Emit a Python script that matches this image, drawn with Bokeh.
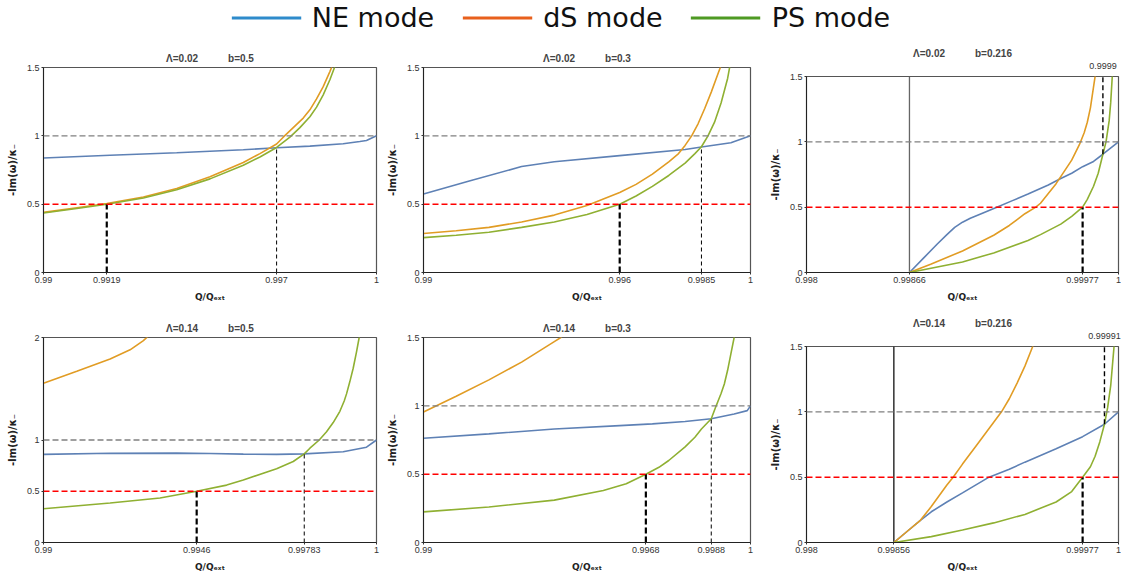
from bokeh.plotting import figure
from bokeh.layouts import column, row
from bokeh.models import FixedTicker, LinearAxis, Range1d, Legend, LegendItem, Span
from bokeh.embed import file_html
from bokeh.resources import INLINE

# ---------------- data ----------------
SERIES = ["NE mode", "dS mode", "PS mode"]

Y_TICKS_A = [0, 0.5, 1, 1.5]
Y_LABELS_A = ["0", "0.5", "1", "1.5"]
Y_TICKS_B = [0, 0.5, 1, 2]
Y_LABELS_B = ["0", "0.5", "1", "2"]

# Panel 1: Lambda=0.02, b=0.5
P1_TITLE = "Λ=0.02\u2003\u2003\u2003b=0.5"
P1_X_TICKS = [0.99, 0.9919, 0.997, 1.0]
P1_X_LABELS = ["0.99", "0.9919", "0.997", "1"]
P1_NE_X = [0.99, 0.992, 0.994, 0.996, 0.997, 0.998, 0.999, 0.9995, 0.9997, 1.0]
P1_NE_Y = [0.838, 0.858, 0.876, 0.898, 0.913, 0.925, 0.942, 0.958, 0.966, 1.0]
P1_DS_X = [0.99, 0.991, 0.9919, 0.993, 0.994, 0.995, 0.996, 0.9965, 0.997, 0.9972, 0.9975, 0.9978, 0.998, 0.9982, 0.9984, 0.9986, 0.9987]
P1_DS_Y = [0.44, 0.474, 0.505, 0.553, 0.615, 0.70, 0.805, 0.87, 0.94, 0.99, 1.06, 1.13, 1.19, 1.27, 1.36, 1.47, 1.53]
P1_PS_X = [0.99, 0.991, 0.9919, 0.993, 0.994, 0.995, 0.996, 0.9965, 0.997, 0.9974, 0.9977, 0.998, 0.9982, 0.9984, 0.9986, 0.9988]
P1_PS_Y = [0.435, 0.468, 0.5, 0.545, 0.605, 0.685, 0.785, 0.845, 0.915, 0.99, 1.06, 1.14, 1.21, 1.30, 1.41, 1.54]
P1_CROSS_X = [0.9919, 0.997]
P1_CROSS_Y = [0.5, 0.915]

# Panel 2: Lambda=0.02, b=0.3
P2_TITLE = "Λ=0.02\u2003\u2003\u2003b=0.3"
P2_X_TICKS = [0.99, 0.996, 0.9985, 1.0]
P2_X_LABELS = ["0.99", "0.996", "0.9985", "1"]
P2_NE_X = [0.99, 0.9914, 0.993, 0.994, 0.996, 0.998, 0.9985, 0.9994, 1.0]
P2_NE_Y = [0.575, 0.67, 0.775, 0.81, 0.855, 0.9, 0.918, 0.95, 1.0]
P2_DS_X = [0.99, 0.991, 0.992, 0.993, 0.994, 0.995, 0.996, 0.9965, 0.997, 0.9975, 0.9978, 0.998, 0.9982, 0.9984, 0.9986, 0.9988, 0.999, 0.9992]
P2_DS_Y = [0.285, 0.305, 0.33, 0.37, 0.42, 0.49, 0.585, 0.645, 0.72, 0.81, 0.87, 0.93, 1.0, 1.09, 1.2, 1.32, 1.45, 1.58]
P2_PS_X = [0.99, 0.991, 0.992, 0.993, 0.994, 0.995, 0.996, 0.9965, 0.997, 0.9975, 0.998, 0.9983, 0.9985, 0.9987, 0.9989, 0.9991, 0.9993, 0.9994]
P2_PS_Y = [0.255, 0.272, 0.295, 0.33, 0.37, 0.425, 0.5, 0.56, 0.63, 0.71, 0.8, 0.87, 0.92, 1.0, 1.1, 1.24, 1.42, 1.55]
P2_CROSS_X = [0.996, 0.9985]
P2_CROSS_Y = [0.5, 0.918]

# Panel 3: Lambda=0.02, b=0.216
P3_TITLE = "Λ=0.02\u2003\u2003\u2003b=0.216"
P3_X_TICKS = [0.998, 0.99866, 0.99977, 1.0]
P3_X_LABELS = ["0.998", "0.99866", "0.99977", "1"]
P3_TOP_TICK = [0.9999]
P3_TOP_LABEL = ["0.9999"]
P3_THRESHOLD = 0.99866
P3_NE_X = [0.99866, 0.99875, 0.99884, 0.9989, 0.99895, 0.999, 0.99905, 0.99912, 0.99922, 0.99932, 0.99942, 0.99955, 0.99963, 0.9997, 0.99977, 0.99984, 0.9999, 1.0]
P3_NE_Y = [0.0, 0.11, 0.22, 0.29, 0.345, 0.385, 0.415, 0.45, 0.5, 0.55, 0.6, 0.67, 0.72, 0.76, 0.81, 0.85, 0.905, 1.0]
P3_DS_X = [0.99866, 0.9988, 0.999, 0.9992, 0.9993, 0.9994, 0.99947, 0.9995, 0.9996, 0.99965, 0.9997, 0.99975, 0.99978, 0.9998, 0.99982, 0.99984, 0.99986]
P3_DS_Y = [0.0, 0.065, 0.165, 0.285, 0.36, 0.45, 0.5, 0.53, 0.68, 0.77, 0.86, 0.98, 1.07, 1.15, 1.26, 1.42, 1.58]
P3_PS_X = [0.99866, 0.999, 0.9992, 0.99942, 0.9995, 0.99963, 0.9997, 0.99977, 0.9998, 0.99984, 0.99987, 0.9999, 0.99992, 0.99994, 0.99995, 0.99996, 0.99997]
P3_PS_Y = [0.0, 0.08, 0.15, 0.245, 0.29, 0.37, 0.43, 0.5, 0.56, 0.66, 0.76, 0.905, 1.0, 1.16, 1.3, 1.5, 1.62]
P3_CROSS_X = [0.99977, 0.9999]
P3_CROSS_Y = [0.5, 0.905]

# Panel 4: Lambda=0.14, b=0.5
P4_TITLE = "Λ=0.14\u2003\u2003\u2003b=0.5"
P4_X_TICKS = [0.99, 0.9946, 0.99783, 1.0]
P4_X_LABELS = ["0.99", "0.9946", "0.99783", "1"]
P4_NE_X = [0.99, 0.992, 0.994, 0.995, 0.996, 0.997, 0.99783, 0.999, 0.9997, 1.0]
P4_NE_Y = [0.86, 0.87, 0.872, 0.868, 0.862, 0.86, 0.865, 0.885, 0.93, 1.0]
P4_DS_X = [0.99, 0.991, 0.992, 0.9926, 0.993, 0.9932]
P4_DS_Y = [1.553, 1.67, 1.79, 1.88, 1.97, 2.03]
P4_PS_X = [0.99, 0.992, 0.9935, 0.9946, 0.9955, 0.996, 0.997, 0.9975, 0.99783, 0.998, 0.99828, 0.9985, 0.9987, 0.9989, 0.99903, 0.9991, 0.9992, 0.9993, 0.9994, 0.99948, 0.9995]
P4_PS_Y = [0.33, 0.386, 0.434, 0.5, 0.56, 0.61, 0.72, 0.79, 0.865, 0.92, 1.0, 1.08, 1.17, 1.28, 1.38, 1.45, 1.57, 1.7, 1.86, 2.0, 2.04]
P4_CROSS_X = [0.9946, 0.99783]
P4_CROSS_Y = [0.5, 0.865]

# Panel 5: Lambda=0.14, b=0.3
P5_TITLE = "Λ=0.14\u2003\u2003\u2003b=0.3"
P5_X_TICKS = [0.99, 0.9968, 0.9988, 1.0]
P5_X_LABELS = ["0.99", "0.9968", "0.9988", "1"]
P5_NE_X = [0.99, 0.992, 0.994, 0.996, 0.997, 0.998, 0.9988, 0.9995, 0.9999, 1.0]
P5_NE_Y = [0.763, 0.795, 0.83, 0.855, 0.868, 0.885, 0.905, 0.94, 0.965, 1.0]
P5_DS_X = [0.99, 0.991, 0.992, 0.993, 0.994, 0.9942, 0.9943]
P5_DS_Y = [0.955, 1.07, 1.19, 1.32, 1.47, 1.5, 1.53]
P5_PS_X = [0.99, 0.992, 0.994, 0.9955, 0.9962, 0.9968, 0.9972, 0.9975, 0.998, 0.9983, 0.9985, 0.9988, 0.99895, 0.999, 0.9991, 0.9992, 0.9993, 0.9994, 0.9995, 0.99955]
P5_PS_Y = [0.224, 0.26, 0.31, 0.38, 0.43, 0.5, 0.55, 0.6, 0.7, 0.77, 0.83, 0.905, 1.0, 1.03, 1.09, 1.16, 1.26, 1.38, 1.5, 1.58]
P5_CROSS_X = [0.9968, 0.9988]
P5_CROSS_Y = [0.5, 0.905]

# Panel 6: Lambda=0.14, b=0.216
P6_TITLE = "Λ=0.14\u2003\u2003\u2003b=0.216"
P6_X_TICKS = [0.998, 0.99856, 0.99977, 1.0]
P6_X_LABELS = ["0.998", "0.99856", "0.99977", "1"]
P6_TOP_TICK = [0.99991]
P6_TOP_LABEL = ["0.99991"]
P6_THRESHOLD = 0.99856
P6_NE_X = [0.99856, 0.99865, 0.99873, 0.9988, 0.9989, 0.999, 0.99917, 0.9993, 0.9994, 0.9996, 0.99977, 0.99991, 1.0]
P6_NE_Y = [0.0, 0.09, 0.17, 0.235, 0.31, 0.38, 0.5, 0.56, 0.615, 0.717, 0.81, 0.905, 1.0]
P6_DS_X = [0.99856, 0.99865, 0.99873, 0.9988, 0.9989, 0.99894, 0.999, 0.9991, 0.9992, 0.99925, 0.9993, 0.99935, 0.9994, 0.99945, 0.99947]
P6_DS_Y = [0.0, 0.09, 0.17, 0.275, 0.44, 0.5, 0.6, 0.76, 0.92, 1.0, 1.1, 1.22, 1.35, 1.5, 1.56]
P6_PS_X = [0.99856, 0.9988, 0.999, 0.9992, 0.9994, 0.9996, 0.9997, 0.99977, 0.99982, 0.99985, 0.99988, 0.99991, 0.99993, 0.99995, 0.99997, 0.99998]
P6_PS_Y = [0.0, 0.045, 0.095, 0.15, 0.215, 0.31, 0.39, 0.5, 0.58, 0.66, 0.77, 0.905, 1.03, 1.2, 1.48, 1.62]
P6_CROSS_X = [0.99977, 0.99991]
P6_CROSS_Y = [0.5, 0.905]

# ---------------- style ----------------
C_NE, C_DS, C_PS = "#5E81B5", "#E19C24", "#8FB032"
LEG_COLORS = ["#2E8BCB", "#E8601C", "#4E9A23"]
FONT = "Liberation Sans"
LABEL_FONT = "DejaVu Sans"
X_LABEL = "Q/Qₑₓₜ"
Y_LABEL = "-Im(ω)/κ₋"


def make_panel(title, xr, yr, xticks, xlabels, yticks, ylabels, curves, cross_x, cross_y,
               width, height, bl, br, bt, bb, threshold=None, thr_color="#666666",
               top_tick=None, top_label=None):
    p = figure(width=width, height=height, x_range=Range1d(xr[0], xr[1]),
               y_range=Range1d(yr[0], yr[1]), output_backend="svg", toolbar_location=None,
               min_border_left=bl, min_border_right=br, min_border_top=bt, min_border_bottom=bb)
    p.grid.visible = False
    p.outline_line_color = "#555555"
    p.outline_line_width = 1.2
    p.background_fill_color = "white"
    p.border_fill_color = "white"

    p.title.text = title
    p.title.align = "center"
    p.title.text_font = FONT
    p.title.text_font_size = "10px"
    p.title.text_font_style = "bold"
    p.title.standoff = 2 if top_tick is not None else 8

    for ax, ticks, labels, lab, fs in ((p.xaxis[0], xticks, xlabels, X_LABEL, "9px"),
                                       (p.yaxis[0], yticks, ylabels, Y_LABEL, "10px")):
        ax.ticker = FixedTicker(ticks=ticks)
        ax.major_label_overrides = dict(zip(ticks, labels))
        ax.major_tick_out = 2
        ax.major_tick_in = 0
        ax.major_tick_line_color = "#333333"
        ax.minor_tick_line_color = None
        ax.axis_line_color = "#222222"
        ax.major_label_text_font = FONT
        ax.major_label_text_font_size = "9px"
        ax.major_label_text_color = "#333333"
        ax.major_label_standoff = 2
        ax.axis_label = lab
        ax.axis_label_text_font = LABEL_FONT
        ax.axis_label_text_font_size = fs
        ax.axis_label_text_font_style = "bold"
        ax.axis_label_text_color = "#222222"
        ax.axis_label_standoff = 6

    if top_tick is not None:
        top = LinearAxis(ticker=FixedTicker(ticks=top_tick),
                         major_label_overrides=dict(zip(top_tick, top_label)),
                         axis_line_color=None, major_tick_line_color=None,
                         minor_tick_line_color=None, major_label_standoff=2,
                         major_label_text_font=FONT, major_label_text_font_size="9px",
                         major_label_text_color="#333333")
        p.add_layout(top, "above")

    if threshold is not None:
        p.segment(x0=[threshold], y0=[yr[0]], x1=[threshold], y1=[yr[1]],
                  line_color=thr_color, line_width=1.3)

    for (xs, ys), c in zip(curves, (C_NE, C_DS, C_PS)):
        p.line(xs, ys, line_color=c, line_width=1.6)

    p.add_layout(Span(location=1.0, dimension="width", line_color="#808080",
                      line_dash="6 3", line_width=1.4))
    p.add_layout(Span(location=0.5, dimension="width", line_color="#FF0000",
                      line_dash="6 3", line_width=1.5))

    p.segment(x0=[cross_x[0]], y0=[yr[0]], x1=[cross_x[0]], y1=[cross_y[0]],
              line_color="black", line_width=2.2, line_dash="6 3")
    if top_tick is not None:
        p.segment(x0=[cross_x[1]], y0=[cross_y[1]], x1=[cross_x[1]], y1=[yr[1]],
                  line_color="black", line_width=1.4, line_dash="5 3")
    else:
        p.segment(x0=[cross_x[1]], y0=[yr[0]], x1=[cross_x[1]], y1=[cross_y[1]],
                  line_color="black", line_width=1, line_dash="4 3")
    return p


LEG_H = 34
p1 = make_panel(P1_TITLE, (0.99, 1.0), (0, 1.5), P1_X_TICKS, P1_X_LABELS, Y_TICKS_A, Y_LABELS_A,
                [(P1_NE_X, P1_NE_Y), (P1_DS_X, P1_DS_Y), (P1_PS_X, P1_PS_Y)], P1_CROSS_X, P1_CROSS_Y,
                383, 276, 43, 7, 33, 38)
p2 = make_panel(P2_TITLE, (0.99, 1.0), (0, 1.5), P2_X_TICKS, P2_X_LABELS, Y_TICKS_A, Y_LABELS_A,
                [(P2_NE_X, P2_NE_Y), (P2_DS_X, P2_DS_Y), (P2_PS_X, P2_PS_Y)], P2_CROSS_X, P2_CROSS_Y,
                383, 276, 34, 16, 33, 38)
p3 = make_panel(P3_TITLE, (0.998, 1.0), (0, 1.5), P3_X_TICKS, P3_X_LABELS, Y_TICKS_A, Y_LABELS_A,
                [(P3_NE_X, P3_NE_Y), (P3_DS_X, P3_DS_Y), (P3_PS_X, P3_PS_Y)], P3_CROSS_X, P3_CROSS_Y,
                355, 276, 34, 3, 42, 38, threshold=P3_THRESHOLD, thr_color="#666666",
                top_tick=P3_TOP_TICK, top_label=P3_TOP_LABEL)
p4 = make_panel(P4_TITLE, (0.99, 1.0), (0, 2.0), P4_X_TICKS, P4_X_LABELS, Y_TICKS_B, Y_LABELS_B,
                [(P4_NE_X, P4_NE_Y), (P4_DS_X, P4_DS_Y), (P4_PS_X, P4_PS_Y)], P4_CROSS_X, P4_CROSS_Y,
                383, 278, 43, 7, 27, 46)
p5 = make_panel(P5_TITLE, (0.99, 1.0), (0, 1.5), P5_X_TICKS, P5_X_LABELS, Y_TICKS_A, Y_LABELS_A,
                [(P5_NE_X, P5_NE_Y), (P5_DS_X, P5_DS_Y), (P5_PS_X, P5_PS_Y)], P5_CROSS_X, P5_CROSS_Y,
                383, 278, 34, 16, 27, 46)
p6 = make_panel(P6_TITLE, (0.998, 1.0), (0, 1.5), P6_X_TICKS, P6_X_LABELS, Y_TICKS_A, Y_LABELS_A,
                [(P6_NE_X, P6_NE_Y), (P6_DS_X, P6_DS_Y), (P6_PS_X, P6_PS_Y)], P6_CROSS_X, P6_CROSS_Y,
                355, 278, 34, 3, 36, 46, threshold=P6_THRESHOLD, thr_color="#111111",
                top_tick=P6_TOP_TICK, top_label=P6_TOP_LABEL)

# ---------------- legend strip ----------------
leg_fig = figure(width=1121, height=LEG_H, x_range=Range1d(0, 1), y_range=Range1d(0, 1),
                 output_backend="svg", toolbar_location=None, min_border=0,
                 x_axis_location=None, y_axis_location=None)
leg_fig.grid.visible = False
leg_fig.outline_line_color = None
items = []
for name, col in zip(SERIES, LEG_COLORS):
    # placeholder renderer outside the visible range: only its legend glyph shows
    r = leg_fig.line(x=[-3, -2], y=[-3, -3], line_color=col, line_width=3)
    items.append(LegendItem(label=name, renderers=[r]))
legend = Legend(items=items, orientation="horizontal", location="center",
                label_text_font=LABEL_FONT, label_text_font_size="27px", label_text_color="#111111",
                glyph_width=70, glyph_height=20, label_standoff=11, spacing=28,
                padding=0, margin=0, border_line_color=None, background_fill_alpha=0)
leg_fig.add_layout(legend, "center")

# each plot wrapped on its own so that frames are not forced to align across a row
layout = column(leg_fig,
                row(column(p1), column(p2), column(p3)),
                row(column(p4), column(p5), column(p6)))

open("out.html", "w").write(file_html(layout, INLINE))
